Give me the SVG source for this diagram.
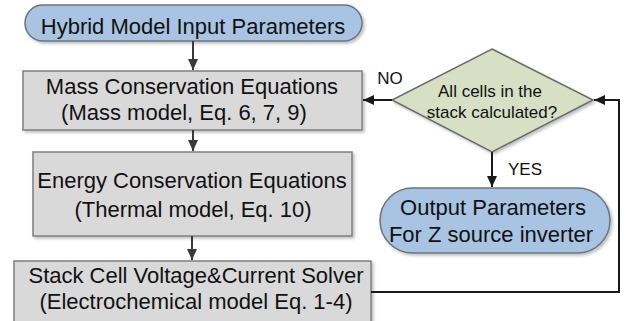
<svg xmlns="http://www.w3.org/2000/svg" width="628" height="321" viewBox="0 0 628 321">
<defs>
<filter id="sh" x="-10%" y="-10%" width="130%" height="140%">
<feDropShadow dx="2" dy="2" stdDeviation="1.5" flood-color="#000" flood-opacity="0.25"/>
</filter>
<marker id="ah" markerUnits="userSpaceOnUse" markerWidth="12" markerHeight="12" refX="11" refY="6" orient="auto">
<path d="M0,1 L11,6 L0,11 z" fill="#1a1a1a"/>
</marker>
<marker id="ahg" markerUnits="userSpaceOnUse" markerWidth="12" markerHeight="12" refX="11" refY="6" orient="auto">
<path d="M0,1 L11,6 L0,11 z" fill="#3a3a3a"/>
</marker>
</defs>
<style>
.box{fill:#d9d9d9;stroke:#7f7f7f;stroke-width:1.5;filter:url(#sh)}
.term{fill:#a8c4e2;stroke:#6b7580;stroke-width:1.5;filter:url(#sh)}
.dia{fill:#d7dfc4;stroke:#6b6b6b;stroke-width:1.5;filter:url(#sh)}
text{font-family:"Liberation Sans",Arial,sans-serif;fill:#111;text-anchor:middle}
.t{font-size:22px}
.s{font-size:17px}
.c{fill:none;stroke:#1a1a1a;stroke-width:2}
.cg{fill:none;stroke:#3a3a3a;stroke-width:2}
</style>
<g id="input">
<rect class="term" x="25" y="5" width="337" height="36" rx="18" ry="18"/>
<text class="t" x="193" y="34">Hybrid Model Input Parameters</text>
</g>
<g id="mass">
<rect class="box" x="23" y="71" width="339" height="59"/>
<text class="t" x="192" y="94">Mass Conservation Equations</text>
<text class="t" x="184" y="120">(Mass model, Eq. 6, 7, 9)</text>
</g>
<g id="energy">
<rect class="box" x="33" y="152" width="319" height="84"/>
<text class="t" x="192" y="188">Energy Conservation Equations</text>
<text class="t" x="193" y="217">(Thermal model, Eq. 10)</text>
</g>
<g id="stack">
<rect class="box" x="14" y="261" width="357" height="70"/>
<text class="t" x="196" y="283">Stack Cell Voltage&amp;Current Solver</text>
<text class="t" x="196" y="309">(Electrochemical model Eq. 1-4)</text>
</g>
<g id="decision">
<polygon class="dia" points="492,49 593,100 492,152 392,100"/>
<text class="s" x="490" y="97">All cells in the</text>
<text class="s" x="492" y="118">stack calculated?</text>
</g>
<g id="output">
<rect class="term" x="380" y="188" width="230" height="65" rx="32.5" ry="32.5"/>
<text class="t" x="493" y="215">Output Parameters</text>
<text class="t" x="491" y="242">For Z source inverter</text>
</g>
<g id="connectors">
<line class="cg" x1="193" y1="41" x2="193" y2="70" marker-end="url(#ahg)"/>
<line class="cg" x1="193" y1="130" x2="193" y2="151" marker-end="url(#ahg)"/>
<line class="cg" x1="192" y1="236" x2="192" y2="260" marker-end="url(#ahg)"/>
<line class="c" x1="392" y1="100" x2="363" y2="100" marker-end="url(#ah)"/>
<line class="c" x1="492" y1="152" x2="492" y2="187" marker-end="url(#ah)"/>
<polyline class="c" points="371,292 619,292 619,100 594,100" marker-end="url(#ah)"/>
<text class="s" x="390" y="84">NO</text>
<text class="s" x="525" y="175">YES</text>
</g>
</svg>
